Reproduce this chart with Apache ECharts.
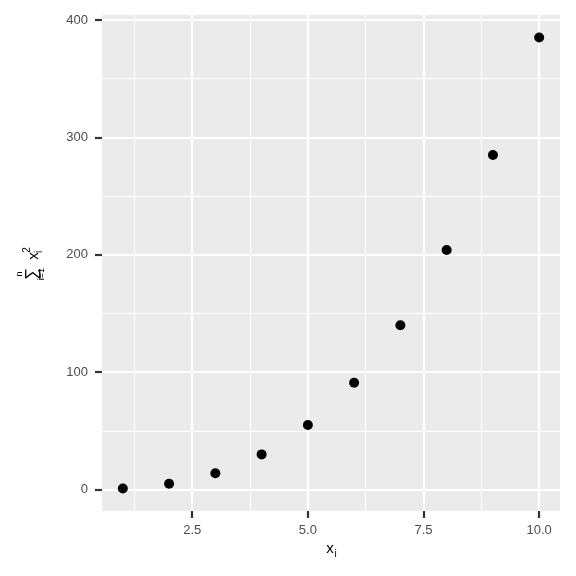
<!DOCTYPE html>
<html>
<head>
<meta charset="utf-8">
<script src="https://cdn.jsdelivr.net/npm/echarts@6/dist/echarts.min.js"></script>
<style>
  html, body { margin: 0; padding: 0; background: #fff; }
  #box { width: 576px; height: 576px; }
</style>
</head>
<body>
<div id="box"></div>
<script>
// data
var xValues = [1, 2, 3, 4, 5, 6, 7, 8, 9, 10];
var ySums = [1, 5, 14, 30, 55, 91, 140, 204, 285, 385];
var xMajor = [2.5, 5, 7.5, 10];
var xMinor = [1.25, 3.75, 6.25, 8.75];
var yMajor = [0, 100, 200, 300, 400];
var yMinor = [50, 150, 250, 350];

var myChart = echarts.init(document.getElementById('box'));

var points = [];
for (var i = 0; i < xValues.length; i++) {
    points.push([xValues[i], ySums[i]]);
}

function gridLines(vals, axis, width) {
    return vals.map(function (v) {
        var d = {};
        d[axis] = v;
        d.lineStyle = { color: '#ffffff', width: width, type: 'solid', opacity: 1 };
        return d;
    });
}

var gridData = []
    .concat(gridLines(xMinor, 'xAxis', 1.1))
    .concat(gridLines(yMinor, 'yAxis', 1.1))
    .concat(gridLines(xMajor, 'xAxis', 2.2))
    .concat(gridLines(yMajor, 'yAxis', 2.2));

var labelStyle = { color: '#4D4D4D', fontSize: 13, fontFamily: 'Liberation Sans' };
var titleFont = 'Liberation Sans';

myChart.setOption({
    animation: false,
    grid: {
        left: 102, right: 16, top: 15, bottom: 65,
        show: true, backgroundColor: '#EBEBEB', borderWidth: 0
    },
    xAxis: {
        type: 'value',
        min: 0.55, max: 10.45,
        axisLine: { show: false, onZero: false },
        splitLine: { show: false },
        axisTick: {
            show: true, customValues: xMajor, length: 7,
            lineStyle: { color: '#333333', width: 2.2 }
        },
        axisLabel: {
            customValues: xMajor, margin: 13,
            formatter: function (v) { return v.toFixed(1); },
            color: labelStyle.color, fontSize: labelStyle.fontSize, fontFamily: labelStyle.fontFamily
        }
    },
    yAxis: {
        type: 'value',
        min: -18.2, max: 404.2,
        axisLine: { show: false, onZero: false },
        splitLine: { show: false },
        axisTick: {
            show: true, customValues: yMajor, length: 7,
            lineStyle: { color: '#333333', width: 2.2 }
        },
        axisLabel: {
            customValues: yMajor, margin: 14,
            color: labelStyle.color, fontSize: labelStyle.fontSize, fontFamily: labelStyle.fontFamily
        }
    },
    graphic: [
        {
            type: 'group', x: 334, y: 549,
            children: [
                { type: 'text', x: -4, y: 0, style: { text: 'x', font: '15px ' + titleFont, fill: '#000', align: 'center', verticalAlign: 'middle' } },
                { type: 'text', x: 1.5, y: 5, style: { text: 'i', font: '10px ' + titleFont, fill: '#000', align: 'center', verticalAlign: 'middle' } }
            ]
        },
        {
            type: 'group', x: 32, y: 266, rotation: Math.PI / 2,
            children: [
                { type: 'text', x: -8, y: 0, style: { text: '\u2211', font: '17px ' + titleFont, fill: '#000', align: 'center', verticalAlign: 'middle' } },
                { type: 'text', x: -8, y: -12, style: { text: 'n', font: '9px ' + titleFont, fill: '#000', align: 'center', verticalAlign: 'middle' } },
                { type: 'text', x: -8, y: 10, style: { text: 'i=1', font: '9px ' + titleFont, fill: '#000', align: 'center', verticalAlign: 'middle' } },
                { type: 'text', x: 10, y: 2, style: { text: 'x', font: '15px ' + titleFont, fill: '#000', align: 'center', verticalAlign: 'middle' } },
                { type: 'text', x: 16, y: -5, style: { text: '2', font: '10px ' + titleFont, fill: '#000', align: 'center', verticalAlign: 'middle' } },
                { type: 'text', x: 14, y: 7, style: { text: 'i', font: '10px ' + titleFont, fill: '#000', align: 'center', verticalAlign: 'middle' } }
            ]
        }
    ],
    series: [
        {
            type: 'scatter',
            data: points,
            symbol: 'circle',
            symbolSize: 10,
            itemStyle: { color: '#000000', opacity: 1 },
            z: 5,
            markLine: {
                silent: true,
                symbol: ['none', 'none'],
                label: { show: false },
                animation: false,
                data: gridData
            }
        }
    ]
});
</script>
</body>
</html>
